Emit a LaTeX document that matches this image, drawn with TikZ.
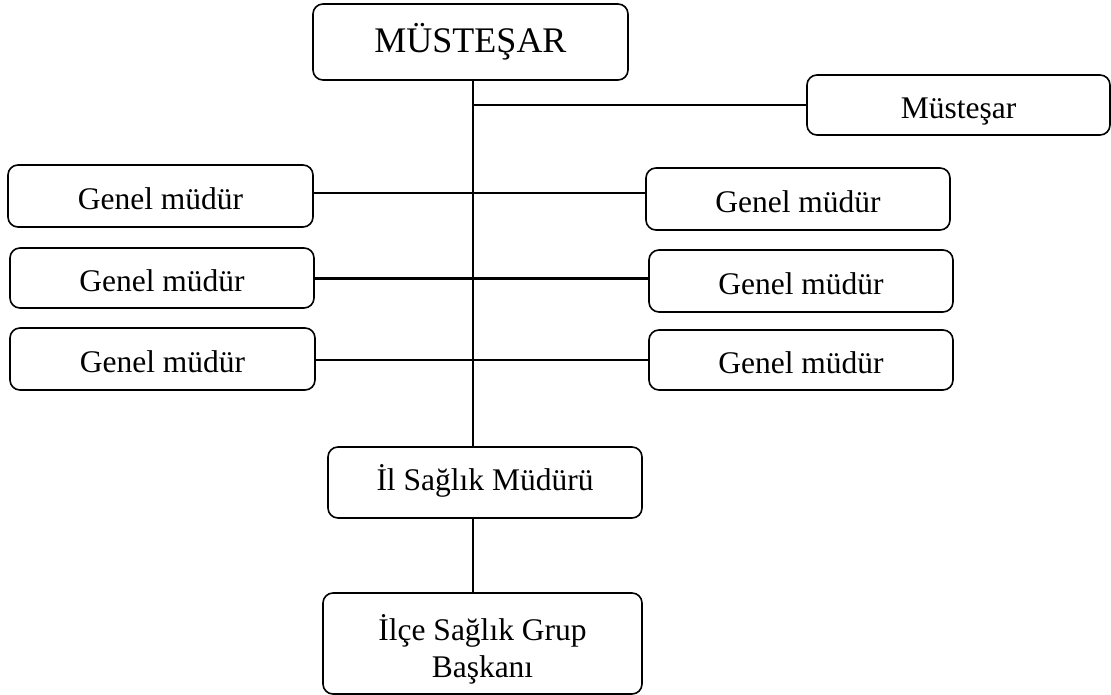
\documentclass[tikz,border=0pt]{standalone}
\usepackage{fontspec}
\setmainfont{Liberation Serif}
\begin{document}
\begin{tikzpicture}[x=1pt,y=-1pt,
  unit/.style={draw, line width=1.6pt, rounded corners=10pt, inner sep=0pt,
    font=\fontsize{31.5}{37}\selectfont, text height=27pt, text depth=0pt},
  link/.style={line width=2pt},
  heavylink/.style={line width=3pt}]
\useasboundingbox (0,0) rectangle (1111,695);

% top of the hierarchy
\node[unit, minimum width=315pt, minimum height=76pt, font=\fontsize{36}{40}\selectfont,
  text height=22pt] (top) at (470.5,42) {MÜSTEŞAR};
\node[unit, minimum width=303pt, minimum height=60pt] (must) at (958.5,105) {Müsteşar};

% general directors, left column
\node[unit, minimum width=305pt, minimum height=62pt] (gl1) at (160.5,196) {Genel müdür};
\node[unit, minimum width=304pt, minimum height=60pt] (gl2) at (162,278) {Genel müdür};
\node[unit, minimum width=305pt, minimum height=62pt] (gl3) at (162.5,359) {Genel müdür};

% general directors, right column
\node[unit, minimum width=304pt, minimum height=62pt] (gr1) at (798,199) {Genel müdür};
\node[unit, minimum width=304pt, minimum height=62pt] (gr2) at (801,281) {Genel müdür};
\node[unit, minimum width=304pt, minimum height=60pt] (gr3) at (801,360) {Genel müdür};

% provincial and district levels
\node[unit, minimum width=314pt, minimum height=71pt, text height=16pt] (il) at (485,482.5) {İl Sağlık Müdürü};
\node[unit, minimum width=319pt, minimum height=101pt, align=center,
  text height=, text depth=] (ilce) at (482.5,643.5)
  {\rule{0pt}{38pt}İlçe Sağlık Grup\\Başkanı};

% trunk line
\coordinate (trunk) at (473,0);
\draw[link] (trunk |- top.south) -- (trunk |- il.north);
\draw[link] (trunk |- must.west) -- (must.west);

% branches to the general directors
\draw[link] (gl1.east |- 0,193) -- (gr1.west |- 0,193);
\draw[heavylink] (gl2.east |- 0,278) -- (gr2.west |- 0,278);
\draw[link] (gl3.east |- 0,360) -- (gr3.west |- 0,360);

% provincial to district
\draw[link] (trunk |- il.south) -- (trunk |- ilce.north);
\end{tikzpicture}
\end{document}
